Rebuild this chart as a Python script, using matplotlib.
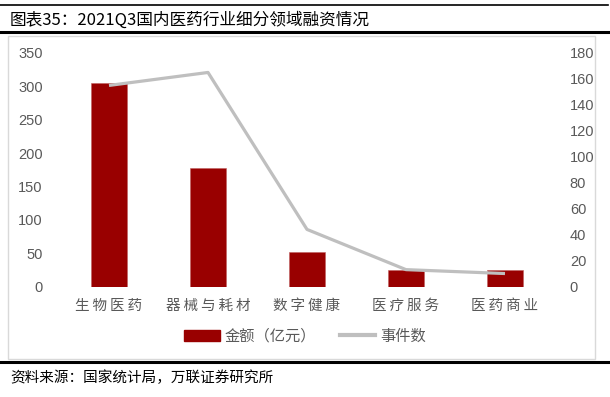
import matplotlib.pyplot as plt
from matplotlib.lines import Line2D
from matplotlib.patches import Rectangle, Patch

plt.rcParams['font.family'] = ['Noto Sans CJK SC', 'DejaVu Sans']

# data
categories = ['生物医药', '器械与耗材', '数字健康', '医疗服务', '医药商业']
amount = [305, 178, 52, 25, 24]      # 金额（亿元）, left axis
events = [155, 165, 44, 13, 10]      # 事件数, right axis
left_ticks = [0, 50, 100, 150, 200, 250, 300, 350]
right_ticks = [0, 20, 40, 60, 80, 100, 120, 140, 160, 180]

W, H = 610, 397
fig = plt.figure(figsize=(W / 100, H / 100), dpi=100)

def fx(px):
    return px / W

def fy(py):
    return 1 - py / H

# page decorations: header rules, frame, footer rule
fig.add_artist(Line2D([0, fx(608)], [fy(5), fy(5)], color='black', lw=1.2))
fig.add_artist(Line2D([0, fx(608)], [fy(32), fy(32)], color='black', lw=2.2))
fig.add_artist(Rectangle((fx(8), fy(359)), fx(595) - fx(8), fy(36) - fy(359),
                         fill=False, edgecolor='#D9D9D9', lw=1.0))
fig.add_artist(Line2D([0, fx(608)], [fy(362), fy(362)], color='black', lw=2.2))

fig.text(fx(10), fy(20), '图表35：2021Q3国内医药行业细分领域融资情况',
         fontsize=12, va='center', ha='left', color='black')
fig.text(fx(10), fy(378), '资料来源：国家统计局，万联证券研究所',
         fontsize=10.5, va='center', ha='left', color='black', style='italic')

ax = fig.add_axes([fx(59.5), fy(286.5), fx(554.5) - fx(59.5), fy(53) - fy(286.5)])
ax2 = ax.twinx()

x = range(len(categories))
ax.bar(x, amount, width=0.36, color='#990000', edgecolor='#C06060', lw=0.4,
       zorder=2)
ax2.plot(x, events, color='#BFBFBF', lw=2.3, solid_capstyle='butt', zorder=3)

ax.set_xlim(-0.5, len(categories) - 0.5)
ax.set_ylim(0, 350)
ax2.set_ylim(0, 180)
ax.set_yticks(left_ticks)
ax2.set_yticks(right_ticks)
ax.set_xticks(list(x))
# the reference spreads the characters a little
spaced = ['\u2009'.join(c) for c in categories]
ax.set_xticklabels(spaced, fontsize=10.5, color='#595959')

for a in (ax, ax2):
    for s in a.spines.values():
        s.set_visible(False)
    a.tick_params(length=0, colors='#595959')
ax.tick_params(axis='y', pad=12, labelsize=10.5)
ax2.tick_params(axis='y', pad=11, labelsize=10.5)
ax.tick_params(axis='x', pad=9)
for lab in ax.get_yticklabels() + ax2.get_yticklabels():
    lab.set_family(['Liberation Sans', 'DejaVu Sans'])

handles = [Patch(facecolor='#990000', edgecolor='#990000'),
           Line2D([0], [0], color='#BFBFBF', lw=3)]
fig.legend(handles, ['金额（亿元）', '事件数'], loc='center',
           bbox_to_anchor=(fx(305), fy(336)), ncol=2, frameon=False,
           fontsize=11, labelcolor='#595959', handlelength=2.3,
           handletextpad=0.3, columnspacing=1.6)

fig.savefig('out.png', dpi=100)
